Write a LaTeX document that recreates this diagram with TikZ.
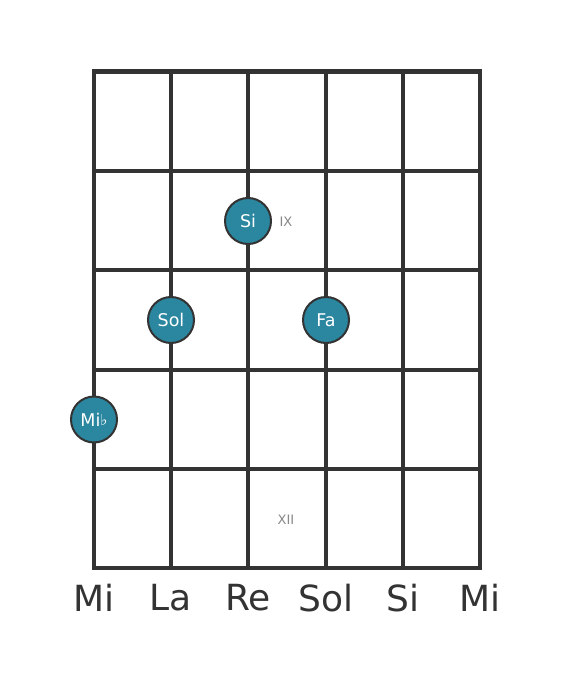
\documentclass[tikz,border=0pt]{standalone}
\usepackage{fontspec}
\setmainfont{DejaVu Sans}
\definecolor{lineC}{HTML}{333333}
\definecolor{dotC}{HTML}{2B86A0}
\definecolor{fretC}{HTML}{888888}
\begin{document}
\begin{tikzpicture}[x=1pt,y=-1pt,
  gridline/.style={draw=lineC,line width=4pt},
  dot/.style={circle,fill=dotC,draw=lineC,line width=2pt,minimum size=46pt,inner sep=0pt,text=white,font=\fontsize{17.5}{17.5}\selectfont},
  fretlbl/.style={text=fretC,font=\fontsize{13}{13}\selectfont},
  strlbl/.style={text=lineC,font=\fontsize{36}{36}\selectfont}]
\useasboundingbox (0,0) rectangle (568,682);
\fill[white] (0,0) rectangle (568,682);
% strings
\foreach \i/\x in {0/94,1/171,2/248,3/326,4/403,5/480}{
  \coordinate (st\i) at (\x,72);
  \coordinate (sb\i) at (\x,568);
  \draw[gridline] (st\i) -- (sb\i);
}
% frets
\foreach \j/\y in {0/72,1/171,2/270,3/370,4/469,5/568}{
  \coordinate (fl\j) at (94,\y);
  \coordinate (fr\j) at (480,\y);
  \draw[gridline] ([xshift=-2pt]fl\j) -- ([xshift=2pt]fr\j);
}
\draw[draw=lineC,line width=5pt] ([xshift=-2pt,yshift=0.5pt]fl0) -- ([xshift=2pt,yshift=0.5pt]fr0);
% dots
\node[dot] (si) at (248,221) {Si};
\node[dot] (sol) at (171,320) {Sol};
\node[dot] (fa) at (326,320) {Fa};
\node[dot] (mib) at (94,419.5) {Mi\raisebox{0.5pt}{\fontsize{15}{15}\selectfont ♭}};
% fret labels
\node[fretlbl] (ix) at (286,222) {IX};
\node[fretlbl] (xii) at (286,520) {XII};
% string labels
\foreach \i/\x/\t in {0/94/Mi,1/171/La,2/248/Re,3/326/Sol,4/403/Si,5/480/Mi}{
  \node[strlbl] (lbl\i) at (\x,598) {\t};
}
\end{tikzpicture}
\end{document}
